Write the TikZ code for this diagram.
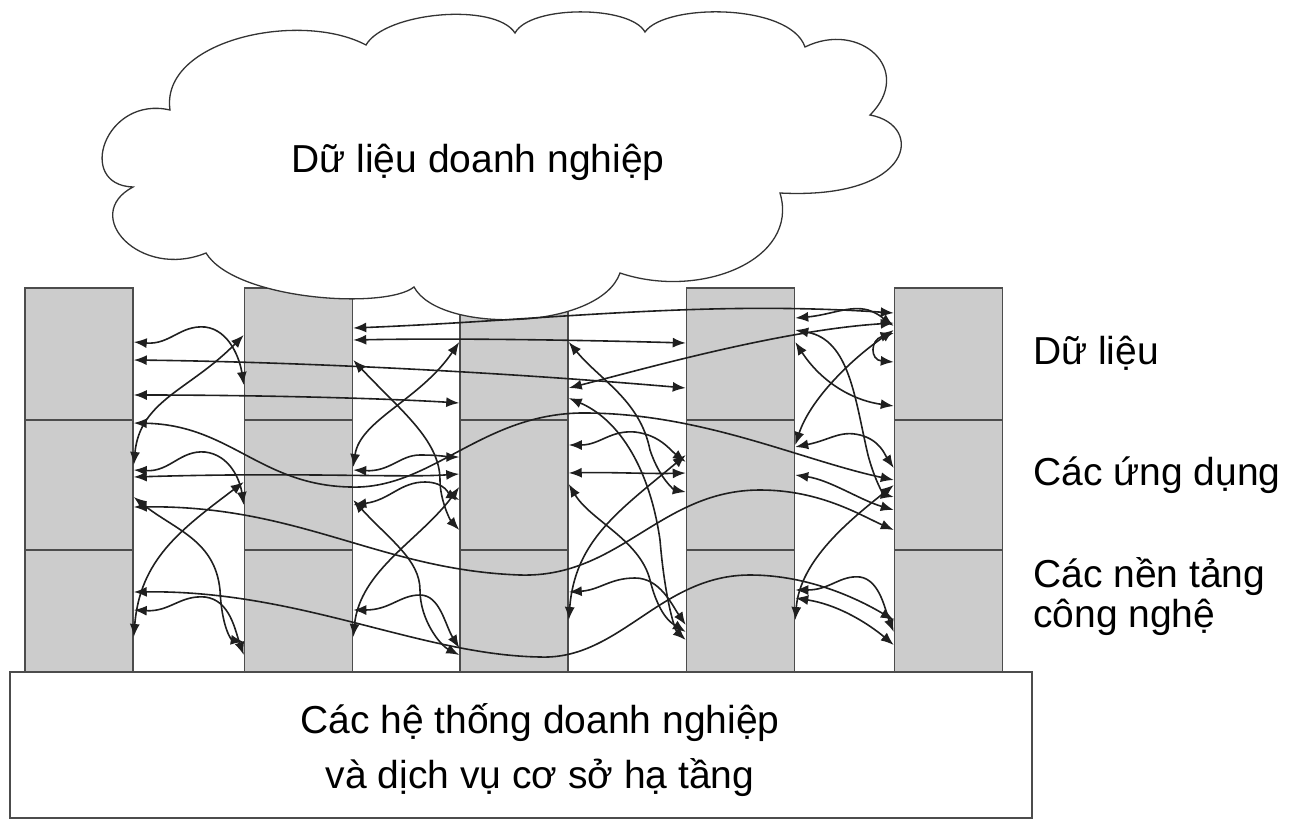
\documentclass[tikz,border=0pt]{standalone}
\usepackage{fontspec}
\setmainfont{Liberation Sans}
\usetikzlibrary{arrows.meta}
\newcommand\bigfont{\fontsize{39}{40}\selectfont}

\tikzset{
  pillar/.style={draw=black!70, line width=1.5pt, fill=black!20, minimum width=108pt, minimum height=384pt, inner sep=0pt},
  divider/.style={draw=black!70, line width=1.5pt},
  link/.style={{Latex[length=13pt,width=10pt]}-{Latex[length=13pt,width=10pt]}, line width=1.6pt, black!88},
  layer/.style={anchor=west, align=left, font=\bigfont, inner sep=0pt}
}

\begin{document}
\begin{tikzpicture}[x=1pt,y=-1pt]
	\useasboundingbox (0,0) rectangle (1302,823);

	% pillars with three layers
	\foreach \i/\x in {1/79, 2/298.5, 3/514, 4/740.5, 5/948.5}
		\node[pillar] (c\i) at (\x,480) {};
	\foreach \i in {1,...,5} {
		\draw[divider] (c\i.west |- 0,420) -- (c\i.east |- 0,420);
		\draw[divider] (c\i.west |- 0,550) -- (c\i.east |- 0,550);
	}

	% enterprise data cloud
	\draw[black!80, line width=1.3pt, fill=white] (133,187)
		.. controls (75,185) and (105,95) .. (170,110)
		.. controls (160,40) and (300,10) .. (366,45)
		.. controls (385,12) and (495,2) .. (515,33)
		.. controls (530,5) and (630,5) .. (645,32)
		.. controls (665,3) and (790,3) .. (805,47)
		.. controls (860,20) and (915,70) .. (870,115)
		.. controls (925,125) and (915,200) .. (780,193)
		.. controls (800,260) and (700,300) .. (620,273)
		.. controls (600,330) and (440,335) .. (414,287)
		.. controls (385,310) and (235,300) .. (206,253)
		.. controls (140,280) and (80,215) .. cycle;
	\node[font=\bigfont] (clouddata) at (478,162) {Dữ liệu doanh nghiệp};

	% gap 1
	\draw[link] (c1.east |- 0,342) .. controls (170,345) and (180,325) .. (205,327) .. controls (230,330) and (240,360) .. (c2.west |- 0,385);
	\draw[link] (c1.east |- 0,360) .. controls (300,362) and (500,372) .. (c4.west |- 0,388);
	\draw[link] (c1.east |- 0,395) .. controls (250,395) and (380,398) .. (c3.west |- 0,403);
	\draw[link] (c1.east |- 0,423) .. controls (230,425) and (260,485) .. (350,487) .. controls (430,490) and (480,415) .. (580,413) .. controls (700,412) and (800,460) .. (c5.west |- 0,480);
	\draw[link] (c2.west |- 0,335) .. controls (190,390) and (140,400) .. (c1.east |- 0,465);
	\draw[link] (c1.east |- 0,470) .. controls (170,472) and (180,450) .. (205,452) .. controls (230,455) and (240,480) .. (c2.west |- 0,505);
	\draw[link] (c1.east |- 0,477) .. controls (300,472) and (400,478) .. (c3.west |- 0,474);
	\draw[link] (c2.west |- 0,482) .. controls (180,530) and (140,560) .. (c1.east |- 0,637);
	\draw[link] (c1.east |- 0,497) .. controls (175,530) and (215,540) .. (220,590) .. controls (222,630) and (232,640) .. (c2.west |- 0,642);
	\draw[link] (c1.east |- 0,507) .. controls (300,505) and (380,570) .. (520,575) .. controls (620,578) and (660,490) .. (760,490) .. controls (820,490) and (860,515) .. (c5.west |- 0,530);
	\draw[link] (c1.east |- 0,592) .. controls (300,590) and (420,655) .. (540,657) .. controls (620,660) and (660,575) .. (750,575) .. controls (810,575) and (860,600) .. (c5.west |- 0,620);
	\draw[link] (c1.east |- 0,610) .. controls (170,612) and (180,595) .. (205,597) .. controls (230,600) and (235,630) .. (c2.west |- 0,655);

	% gap 2
	\draw[link] (c2.east |- 0,328) .. controls (550,320) and (700,300) .. (c5.west |- 0,313);
	\draw[link] (c2.east |- 0,340) .. controls (450,338) and (580,340) .. (c4.west |- 0,343);
	\draw[link] (c2.east |- 0,360) .. controls (400,410) and (440,440) .. (440,480) .. controls (440,500) and (450,520) .. (c3.west |- 0,530);
	\draw[link] (c3.west |- 0,342) .. controls (420,400) and (360,420) .. (c2.east |- 0,467);
	\draw[link] (c2.east |- 0,470) .. controls (390,472) and (400,455) .. (420,455) .. controls (440,455) and (450,457) .. (c3.west |- 0,457);
	\draw[link] (c2.east |- 0,505) .. controls (390,500) and (400,482) .. (425,482) .. controls (445,482) and (450,495) .. (c3.west |- 0,500);
	\draw[link] (c2.east |- 0,500) .. controls (390,540) and (420,560) .. (420,590) .. controls (420,620) and (440,645) .. (c3.west |- 0,655);
	\draw[link] (c2.east |- 0,610) .. controls (390,610) and (400,595) .. (420,595) .. controls (440,595) and (445,625) .. (c3.west |- 0,648);
	\draw[link] (c2.east |- 0,637) .. controls (360,570) and (420,540) .. (c3.west |- 0,487);

	% gap 3
	\draw[link] (c3.east |- 0,342) .. controls (600,380) and (640,400) .. (650,450) .. controls (660,480) and (675,490) .. (c4.west |- 0,492);
	\draw[link] (c3.east |- 0,388) .. controls (640,370) and (780,330) .. (c5.west |- 0,323);
	\draw[link] (c3.east |- 0,398) .. controls (620,420) and (650,470) .. (660,540) .. controls (665,600) and (675,630) .. (c4.west |- 0,640);
	\draw[link] (c3.east |- 0,445) .. controls (600,445) and (610,430) .. (635,432) .. controls (660,435) and (670,450) .. (c4.west |- 0,462);
	\draw[link] (c3.east |- 0,473) .. controls (610,472) and (650,474) .. (c4.west |- 0,473);
	\draw[link] (c3.east |- 0,484) .. controls (590,520) and (640,540) .. (650,580) .. controls (660,620) and (675,625) .. (c4.west |- 0,632);
	\draw[link] (c4.west |- 0,455) .. controls (620,510) and (575,540) .. (c3.east |- 0,620);
	\draw[link] (c3.east |- 0,592) .. controls (600,590) and (610,578) .. (635,578) .. controls (660,578) and (672,605) .. (c4.west |- 0,625);

	% gap 4
	\draw[link] (c4.east |- 0,318) .. controls (830,315) and (850,305) .. (868,310) .. controls (880,314) and (885,320) .. (c5.west |- 0,326);
	\draw[link] (c4.east |- 0,342) .. controls (820,380) and (850,400) .. (c5.west |- 0,406);
	\draw[link] (c5.west |- 0,330) .. controls (850,360) and (810,400) .. (c4.east |- 0,445);
	\draw[link] (c5.west |- 0,333) .. controls (870,340) and (870,360) .. (c5.west |- 0,362);
	\draw[link] (c4.east |- 0,447) .. controls (830,440) and (840,430) .. (860,435) .. controls (880,440) and (885,455) .. (c5.west |- 0,468);
	\draw[link] (c4.east |- 0,475) .. controls (830,480) and (860,500) .. (c5.west |- 0,510);
	\draw[link] (c4.east |- 0,330) .. controls (850,340) and (855,400) .. (868,455) .. controls (876,485) and (885,495) .. (c5.west |- 0,497);
	\draw[link] (c4.east |- 0,590) .. controls (830,590) and (840,575) .. (860,577) .. controls (880,580) and (885,610) .. (c5.west |- 0,632);
	\draw[link] (c5.west |- 0,485) .. controls (850,520) and (800,560) .. (c4.east |- 0,620);
	\draw[link] (c4.east |- 0,598) .. controls (840,605) and (870,625) .. (c5.west |- 0,645);

	% base systems
	\node[draw=black!70, line width=1.5pt, fill=white, minimum width=1022pt, minimum height=146pt, inner sep=0pt] (base) at (521,745) {};
	\node[font=\fontsize{39}{55}\selectfont, align=center] (basetext) at (540,750) {Các hệ thống doanh nghiệp\\và dịch vụ cơ sở hạ tầng};

	% layer names
	\node[layer] (ldata) at (1033,353) {Dữ liệu};
	\node[layer] (lapps) at (1033,475) {Các ứng dụng};
	\node[layer] (ltech) at (1033,597) {Các nền tảng\\công nghệ};
\end{tikzpicture}
\end{document}
